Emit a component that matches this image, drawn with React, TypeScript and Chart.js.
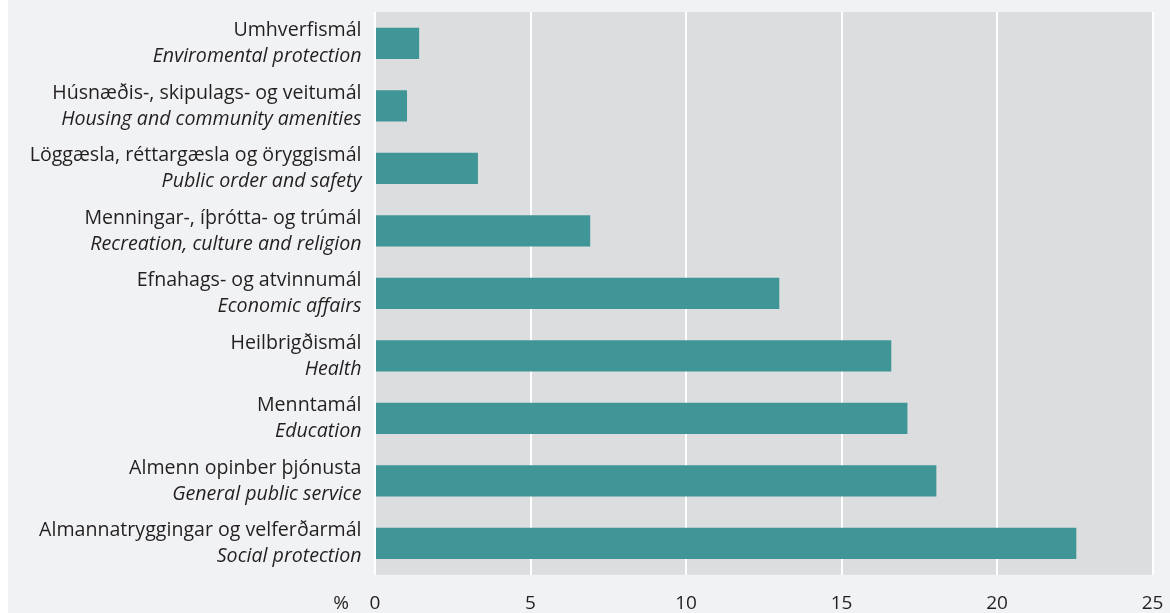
import React, { useEffect, useRef } from "react";
import { Chart, registerables } from "chart.js";

Chart.register(...registerables);

const categoriesIs = [
  "Umhverfismál",
  "Húsnæðis-, skipulags- og veitumál",
  "Löggæsla, réttargæsla og öryggismál",
  "Menningar-, íþrótta- og trúmál",
  "Efnahags- og atvinnumál",
  "Heilbrigðismál",
  "Menntamál",
  "Almenn opinber þjónusta",
  "Almannatryggingar og velferðarmál",
];

const categoriesEn = [
  "Enviromental protection",
  "Housing and community amenities",
  "Public order and safety",
  "Recreation, culture and religion",
  "Economic affairs",
  "Health",
  "Education",
  "General public service",
  "Social protection",
];

const values = [1.42, 1.03, 3.31, 6.92, 13.0, 16.6, 17.12, 18.05, 22.55];

const xTicks = [0, 5, 10, 15, 20, 25];
const unitLabel = "%";

const FONT = "'Open Sans', 'Noto Sans', sans-serif";
const TEXT = "#231f20";
const PAGE_BG = "#f1f2f4";
const PLOT_BG = "#dcdddf";
const BAR = "#409596";

export default function App() {
  const ref = useRef<HTMLCanvasElement | null>(null);

  useEffect(() => {
    if (!ref.current) return;
    const bgPlugin = {
      id: "bgPlugin",
      beforeDraw(chart: any) {
        const { ctx, chartArea } = chart;
        ctx.save();
        ctx.fillStyle = PAGE_BG;
        ctx.fillRect(0, 0, chart.width, chart.height);
        ctx.fillStyle = PLOT_BG;
        ctx.fillRect(
          chartArea.left,
          chartArea.top,
          chartArea.right - chartArea.left,
          chartArea.bottom - chartArea.top
        );
        ctx.restore();
      },
    };
    const labelPlugin = {
      id: "labelPlugin",
      afterDraw(chart: any) {
        const { ctx, chartArea } = chart;
        const yScale = chart.scales.y;
        const xScale = chart.scales.x;
        ctx.save();
        ctx.fillStyle = TEXT;
        ctx.textAlign = "right";
        ctx.textBaseline = "alphabetic";
        const xr = chartArea.left - 13.5;
        categoriesIs.forEach((c, i) => {
          const y = yScale.getPixelForValue(i);
          ctx.font = `19.6px ${FONT}`;
          ctx.fillText(c, xr, y - 7);
          ctx.font = `italic 19.6px ${FONT}`;
          ctx.fillText(categoriesEn[i], xr, y + 19);
        });
        ctx.font = `19px ${FONT}`;
        ctx.textAlign = "center";
        const ty = chartArea.bottom + 34.5;
        xTicks.forEach((t) => {
          ctx.fillText(String(t), xScale.getPixelForValue(t), ty);
        });
        ctx.fillText(unitLabel, chartArea.left - 34, ty);
        ctx.restore();
      },
    };
    const chart = new Chart(ref.current, {
      type: "bar",
      data: {
        labels: categoriesIs,
        datasets: [
          {
            data: values,
            backgroundColor: BAR,
            borderWidth: 0,
            barPercentage: 0.5,
            categoryPercentage: 1,
          },
        ],
      },
      options: {
        indexAxis: "y",
        animation: false,
        responsive: true,
        maintainAspectRatio: false,
        layout: { padding: { top: 12, right: 17.5, left: 0, bottom: 0 } },
        plugins: {
          legend: { display: false },
          tooltip: { enabled: false },
        },
        scales: {
          y: {
            ticks: { display: false },
            grid: { display: false },
            border: { display: false },
            afterFit: (s: any) => {
              s.width = 367;
            },
          },
          x: {
            min: 0,
            max: 25,
            ticks: { display: false, stepSize: 5 },
            grid: { color: "#ffffff", lineWidth: 2, drawTicks: false },
            border: { display: false },
            afterFit: (s: any) => {
              s.height = 38.3;
            },
          },
        },
      },
      plugins: [bgPlugin, labelPlugin],
    } as any);
    return () => chart.destroy();
  }, []);

  return (
    <div
      style={{
        position: "fixed",
        left: 8,
        top: 0,
        width: 1162,
        height: 613,
        background: PAGE_BG,
      }}
    >
      <canvas ref={ref} />
    </div>
  );
}
